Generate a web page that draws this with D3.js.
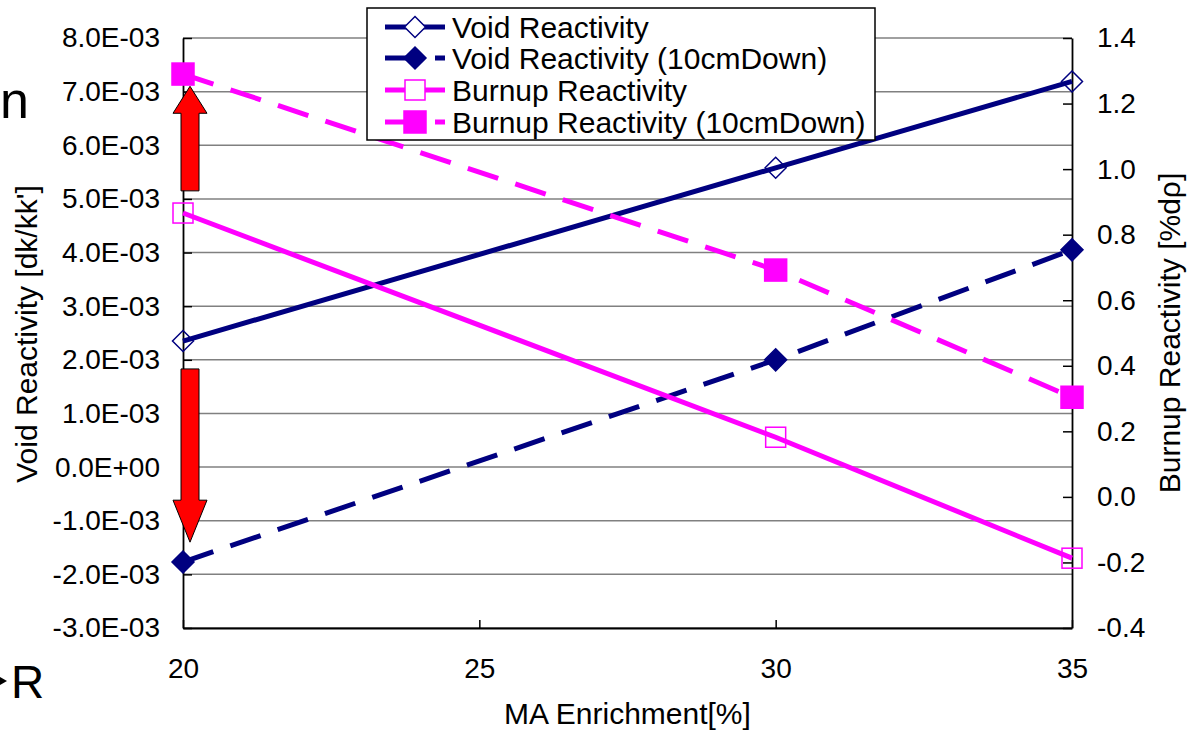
<!DOCTYPE html>
<html><head><meta charset="utf-8">
<script src="https://cdn.jsdelivr.net/npm/d3@7"></script>
<style>
html,body{margin:0;padding:0;background:#fff;}
svg{display:block;font-family:"Liberation Sans",Arial,sans-serif;}
</style></head>
<body>
<svg id="chart" width="1201" height="730"></svg>
<script>
// ---- data ----
const enrichment = [20, 30, 35];
const voidReactivity = [2.35e-3, 5.58e-3, 7.19e-3];
const voidReactivity10cm = [-1.77e-3, 2.0e-3, 4.05e-3];
const burnupReactivity = [0.866, 0.182, -0.187];
const burnupReactivity10cm = [1.29, 0.692, 0.304];
const leftTicks = [-3e-3,-2e-3,-1e-3,0,1e-3,2e-3,3e-3,4e-3,5e-3,6e-3,7e-3,8e-3];
const leftTickLabels = ["-3.0E-03","-2.0E-03","-1.0E-03","0.0E+00","1.0E-03","2.0E-03","3.0E-03","4.0E-03","5.0E-03","6.0E-03","7.0E-03","8.0E-03"];
const rightTicks = [-0.4,-0.2,0,0.2,0.4,0.6,0.8,1.0,1.2,1.4];
const rightTickLabels = ["-0.4","-0.2","0.0","0.2","0.4","0.6","0.8","1.0","1.2","1.4"];
const xTicks = [20, 25, 30, 35];
const seriesNames = ["Void Reactivity","Void Reactivity (10cmDown)","Burnup Reactivity","Burnup Reactivity (10cmDown)"];
// annotation arrows (left-axis values): [from, to]
const arrowUp = [5.15e-3, 7.1e-3];
const arrowDown = [1.83e-3, -1.4e-3];

// ---- layout ----
const svg = d3.select("#chart");
const L = 183, R = 1072, T = 38, B = 628;
const FS = 28, FT = 30;
const x = d3.scaleLinear().domain([20, 35]).range([L, R]);
const yL = d3.scaleLinear().domain([-3e-3, 8e-3]).range([B, T]);
const yR = d3.scaleLinear().domain([-0.4, 1.4]).range([B, T]);
const navy = "#000080", mag = "#ff00ff";

// gridlines
svg.append("g").selectAll("line").data(leftTicks).join("line")
  .attr("x1", L).attr("x2", R).attr("y1", d => yL(d)).attr("y2", d => yL(d))
  .attr("stroke", "#808080").attr("stroke-width", 1.5);

// axes
const gl = svg.append("g").attr("transform", `translate(${L},0)`)
  .call(d3.axisLeft(yL).tickValues(leftTicks).tickFormat((d,i)=>leftTickLabels[i]).tickSizeInner(-9).tickSizeOuter(0).tickPadding(23));
const gr = svg.append("g").attr("transform", `translate(${R},0)`)
  .call(d3.axisRight(yR).tickValues(rightTicks).tickFormat((d,i)=>rightTickLabels[i]).tickSizeInner(-9).tickSizeOuter(0).tickPadding(25));
const gb = svg.append("g").attr("transform", `translate(0,${B})`)
  .call(d3.axisBottom(x).tickValues(xTicks).tickFormat(d3.format("d")).tickSizeInner(-8).tickSizeOuter(0).tickPadding(30));
[gl, gr, gb].forEach(g => {
  g.select(".domain").attr("stroke", "#000").attr("stroke-width", 1.8);
  g.selectAll(".tick line").attr("stroke", "#000").attr("stroke-width", 1.5);
  g.selectAll(".tick text").attr("font-size", FS).attr("fill", "#000").attr("font-family", "Liberation Sans, Arial, sans-serif");
});

// axis titles
svg.append("text").attr("transform", `translate(37,${(T+B)/2 + 1}) rotate(-90)`)
  .attr("text-anchor", "middle").attr("font-size", FT).text("Void Reactivity [dk/kk']");
svg.append("text").attr("transform", `translate(1180,${(T+B)/2}) rotate(-90)`)
  .attr("text-anchor", "middle").attr("font-size", FT).text("Burnup Reactivity [%dρ]");
svg.append("text").attr("x", (L+R)/2).attr("y", 724)
  .attr("text-anchor", "middle").attr("font-size", FT).text("MA Enrichment[%]");

// red arrows
function vArrow(from, to) {
  const cx = x(20) + 7, y0 = yL(from), y1 = yL(to);
  const dir = Math.sign(y1 - y0);
  const headLen = dir < 0 ? 27 : 42;
  const hb = y1 - dir * headLen;
  const pts = [[cx-9,y0],[cx+9,y0],[cx+9,hb],[cx+17,hb],[cx,y1],[cx-17,hb],[cx-9,hb]];
  svg.append("polygon").attr("points", pts.map(p=>p.join(",")).join(" "))
    .attr("fill", "#ff0000").attr("stroke", "#000").attr("stroke-width", 1);
}
vArrow(arrowUp[0], arrowUp[1]);
vArrow(arrowDown[0], arrowDown[1]);

// series
const series = [
  {vals: voidReactivity, y: yL, color: navy, dash: null, marker: "diamond", filled: false},
  {vals: voidReactivity10cm, y: yL, color: navy, dash: "32,18", marker: "diamond", filled: true},
  {vals: burnupReactivity, y: yR, color: mag, dash: null, marker: "square", filled: false},
  {vals: burnupReactivity10cm, y: yR, color: mag, dash: "32,18", marker: "square", filled: true},
];
function drawMarker(g, s, cx, cy, legend) {
  if (s.marker === "diamond") {
    const r = s.filled ? 11 : 10.5;
    g.append("path").attr("d", `M${cx},${cy-r}L${cx+r},${cy}L${cx},${cy+r}L${cx-r},${cy}Z`)
      .attr("fill", s.filled ? s.color : (legend ? "#fff" : "none"))
      .attr("stroke", s.color).attr("stroke-width", 1.5);
  } else {
    const h = s.filled ? 11 : 10;
    g.append("rect").attr("x", cx-h).attr("y", cy-h).attr("width", 2*h).attr("height", 2*h)
      .attr("fill", s.filled ? s.color : (legend ? "#fff" : "none"))
      .attr("stroke", s.color).attr("stroke-width", 1.5);
  }
}
series.forEach(s => {
  const g = svg.append("g");
  const line = d3.line().x((d,i)=>x(enrichment[i])).y(d=>s.y(d));
  g.append("path").attr("d", line(s.vals)).attr("fill", "none")
    .attr("stroke", s.color).attr("stroke-width", 5)
    .attr("stroke-dasharray", s.dash);
  s.vals.forEach((v,i) => drawMarker(g, s, x(enrichment[i]), s.y(v), false));
});

// legend
const lg = svg.append("g");
lg.append("rect").attr("x", 367).attr("y", 8).attr("width", 508).attr("height", 132)
  .attr("fill", "#fff").attr("stroke", "#000").attr("stroke-width", 1.5);
const rowY = [27, 58, 90, 122];
series.forEach((s, i) => {
  const yy = rowY[i];
  lg.append("line").attr("x1", 385).attr("x2", 445).attr("y1", yy).attr("y2", yy)
    .attr("stroke", s.color).attr("stroke-width", 5).attr("stroke-dasharray", s.dash);
  drawMarker(lg, s, 415, yy, true);
  lg.append("text").attr("x", 452).attr("y", yy).attr("dy", "0.35em")
    .attr("font-size", FT).text(seriesNames[i]);
});

// slide fragments at left edge
svg.append("text").attr("x", 0).attr("y", 118).attr("font-size", 52).text("n");
svg.append("text").attr("x", 11).attr("y", 698).attr("font-size", 46).text("R");
svg.append("polygon").attr("points", "0,677 7,681 0,685").attr("fill", "#000");
</script>
</body></html>
